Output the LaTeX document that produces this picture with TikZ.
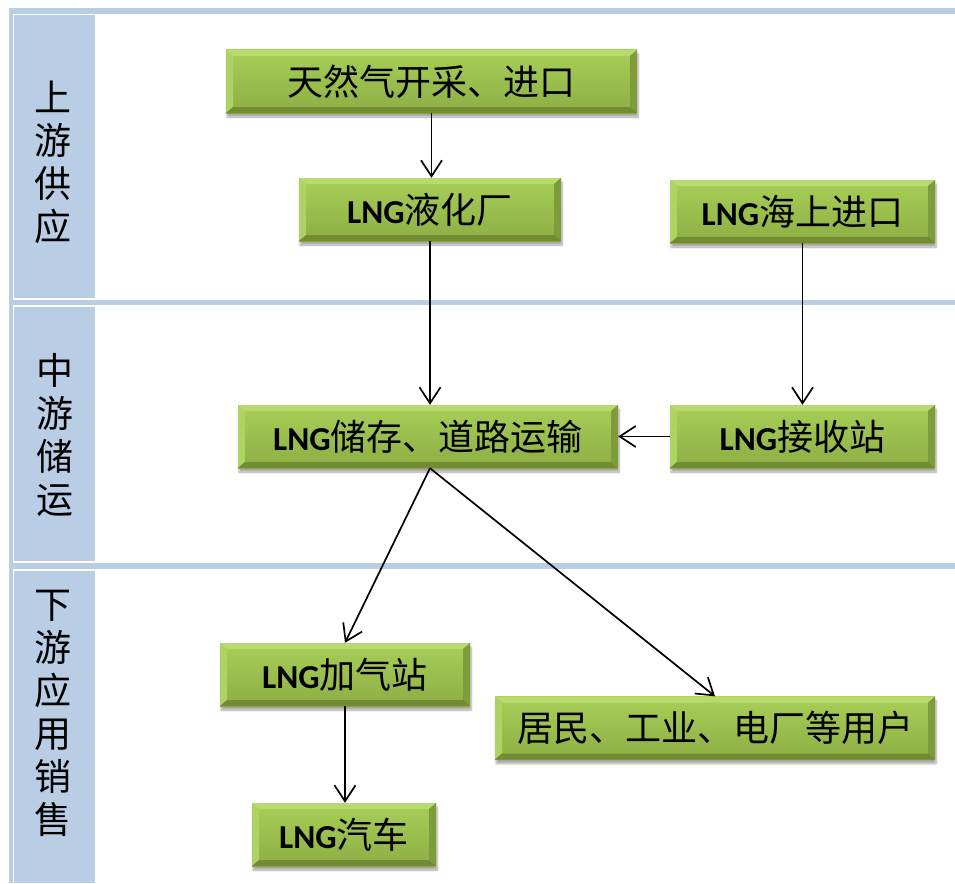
\documentclass[tikz,border=0pt]{standalone}
\usepackage{fontspec}
\setmainfont{Noto Sans CJK SC}
\newfontfamily\lngfont{Carlito}[Scale=0.93]
\usetikzlibrary{arrows.meta,shadows.blur}
\definecolor{bandblue}{HTML}{B9CDE5}
\definecolor{gtop}{HTML}{A8CF58}
\definecolor{gbot}{HTML}{8DAE44}
\definecolor{bevT}{HTML}{B8DB70}
\definecolor{bevL}{HTML}{ADD362}
\definecolor{bevR}{HTML}{7F9C3C}
\definecolor{bevB}{HTML}{718C33}
\newcommand{\LNG}{{\lngfont\bfseries LNG}}
\tikzset{
  gbox/.style={rectangle, inner sep=0pt, minimum height=63pt,
    top color=gtop, bottom color=gbot,
    blur shadow={shadow xshift=1pt, shadow yshift=-4pt, shadow blur steps=6, shadow opacity=35},
    font=\fontsize{36pt}{40pt}\selectfont,
    path picture={
      \fill[bevT] (path picture bounding box.north west) -- (path picture bounding box.north east)
        -- ([xshift=-7pt,yshift=-6pt]path picture bounding box.north east)
        -- ([xshift=7pt,yshift=-6pt]path picture bounding box.north west) -- cycle;
      \fill[bevL] (path picture bounding box.north west) -- (path picture bounding box.south west)
        -- ([xshift=7pt,yshift=6pt]path picture bounding box.south west)
        -- ([xshift=7pt,yshift=-6pt]path picture bounding box.north west) -- cycle;
      \fill[bevR] (path picture bounding box.north east) -- (path picture bounding box.south east)
        -- ([xshift=-7pt,yshift=6pt]path picture bounding box.south east)
        -- ([xshift=-7pt,yshift=-6pt]path picture bounding box.north east) -- cycle;
      \fill[bevB] (path picture bounding box.south west) -- (path picture bounding box.south east)
        -- ([xshift=-7pt,yshift=6pt]path picture bounding box.south east)
        -- ([xshift=7pt,yshift=6pt]path picture bounding box.south west) -- cycle;
    }},
  flow/.style={draw=black, line width=1.7pt, -{Straight Barb[length=16pt,width=21pt,line width=1.7pt]}},
  rowlabel/.style={align=center, font=\fontsize{37pt}{43pt}\selectfont, inner sep=0pt},
}
\begin{document}
\begin{tikzpicture}[x=1pt,y=-1pt]
\useasboundingbox (0,0) rectangle (955,883);
% table frame
\fill[bandblue] (9,8) rectangle (955,14);
\fill[bandblue] (9,8) rectangle (13,883);
\fill[bandblue] (14,15) rectangle (95,298);
\fill[bandblue] (9,300) rectangle (955,305);
\fill[bandblue] (14,307) rectangle (95,561);
\fill[bandblue] (9,563) rectangle (955,569);
\fill[bandblue] (14,571) rectangle (95,883);
% row labels
\node[rowlabel] (up) at (53,162) {上\\游\\供\\应};
\node[rowlabel] (mid) at (55,435) {中\\游\\储\\运};
\node[rowlabel] (down) at (53,713) {下\\游\\应\\用\\销\\售};
% boxes
\node[gbox, minimum width=411pt] (n1) at (431.5,81.5) {天然气开采、进口};
\node[gbox, minimum width=262pt] (n2) at (430,209.5) {\LNG 液化厂};
\node[gbox, minimum width=265pt] (n3) at (802.5,211.5) {\LNG 海上进口};
\node[gbox, minimum width=380pt] (n4) at (428,436.5) {\LNG 储存、道路运输};
\node[gbox, minimum width=265pt] (n5) at (802.5,436.5) {\LNG 接收站};
\node[gbox, minimum width=250pt] (n6) at (345,674.5) {\LNG 加气站};
\node[gbox, minimum width=440pt] (n7) at (715,728) {居民、工业、电厂等用户};
\node[gbox, minimum width=184pt] (n8) at (344,834.5) {\LNG 汽车};
% connectors
\draw[flow] (n1.south) -- (n1.south |- n2.north);
\draw[flow] (n2.south) -- (n2.south |- n4.north);
\draw[flow] (n3.south) -- (n3.south |- n5.north);
\draw[flow] (n5.west) -- (n4.east);
\draw[flow] ([xshift=2pt]n4.south) -- (n6.north);
\draw[flow] ([xshift=2pt]n4.south) -- (n7.north);
\draw[flow] (n6.south) -- (n6.south |- n8.north);
\end{tikzpicture}
\end{document}
